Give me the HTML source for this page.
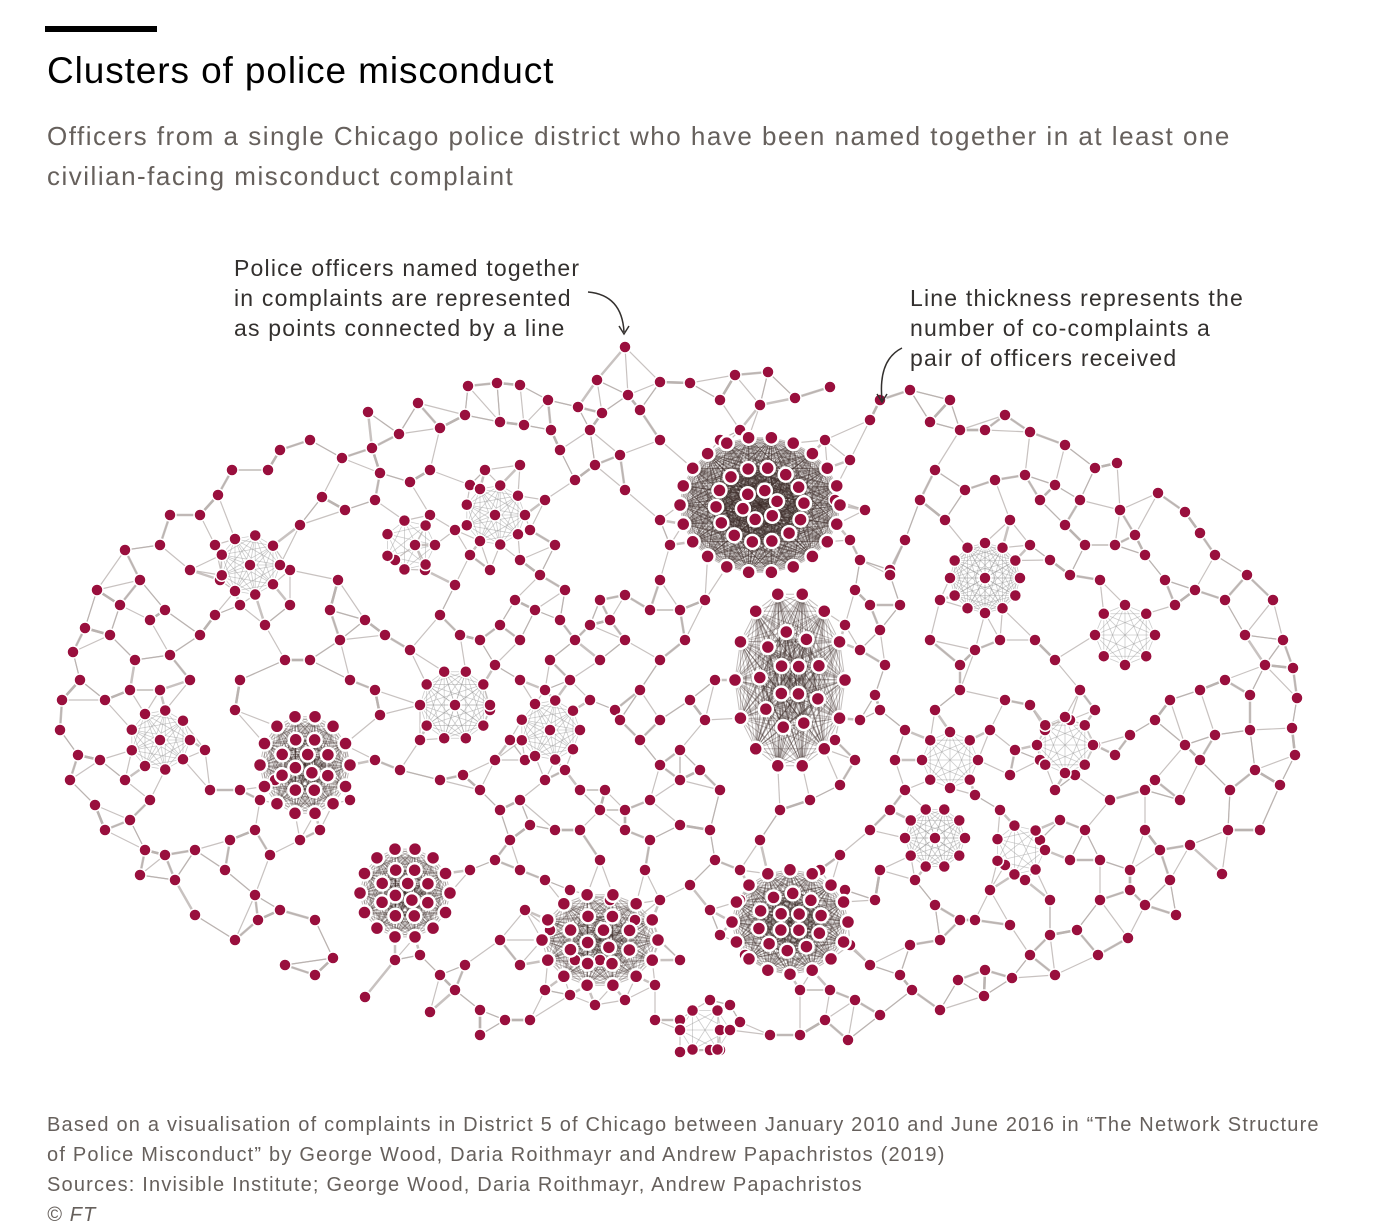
<!DOCTYPE html>
<html><head><meta charset="utf-8">
<style>
body{margin:0;background:#fff;width:1399px;height:1229px;overflow:hidden;font-family:"Liberation Sans",sans-serif;position:relative}
.t{position:absolute;margin:0}
</style></head><body>
<div style="position:absolute;left:45px;top:26px;width:112px;height:6px;background:#000"></div>
<h1 class="t" style="left:47px;top:50px;font-size:37px;letter-spacing:0.9px;font-weight:normal;color:#000">Clusters of police misconduct</h1>
<p class="t" style="left:47px;top:116px;font-size:26px;letter-spacing:1.5px;line-height:40px;color:#66605c;width:1230px">Officers from a single Chicago police district who have been named together in at least one civilian-facing misconduct complaint</p>
<p class="t" style="left:234px;top:253px;font-size:23px;letter-spacing:1.2px;line-height:30px;color:#33302e">Police officers named together<br>in complaints are represented<br>as points connected by a line</p>
<p class="t" style="left:910px;top:283px;font-size:23px;letter-spacing:1.2px;line-height:30px;color:#33302e">Line thickness represents the<br>number of co-complaints a<br>pair of officers received</p>
<svg id="net" width="1399" height="1229" style="position:absolute;left:0;top:0">
<g id="edges"></g><g id="nodes"></g>
<path d="M588 292 Q622 295 624 332" fill="none" stroke="#33302e" stroke-width="1.5"/>
<path d="M619 326 L624 334 L629 326" fill="none" stroke="#33302e" stroke-width="1.5"/>
<path d="M902 348 Q878 360 882 400" fill="none" stroke="#33302e" stroke-width="1.5"/>
<path d="M877 394 L882 402 L887 394" fill="none" stroke="#33302e" stroke-width="1.5"/>
</svg>
<p class="t" style="left:47px;top:1110px;font-size:20px;letter-spacing:1.2px;line-height:30px;color:#66605c">Based on a visualisation of complaints in District 5 of Chicago between January 2010 and June 2016 in “The Network Structure<br>of Police Misconduct” by George Wood, Daria Roithmayr and Andrew Papachristos (2019)<br>Sources: Invisible Institute; George Wood, Daria Roithmayr, Andrew Papachristos<br><i>© FT</i></p>
<script>
const nodeX=[625,597,660,690,735,768,720,760,795,830,880,910,870,468,497,520,418,368,578,602,628,548,465,500,524,551,440,399,372,342,310,280,268,232,218,200,170,160,125,140,97,120,85,110,73,80,62,60,78,70,95,105,130,145,165,140,175,195,235,258,285,315,333,365,315,280,255,225,195,230,255,
215,190,220,290,300,322,345,375,410,430,380,455,430,415,395,425,455,338,330,365,385,410,290,265,240,215,200,165,150,135,170,190,160,130,105,100,125,150,205,210,240,235,240,285,310,340,350,375,380,375,400,420,440,463,345,350,
950,930,960,985,1005,1030,1065,1095,1117,1158,1185,1200,1215,1247,1273,1283,1293,1297,1292,1295,1280,1260,1228,1222,1176,1145,1128,1098,1077,1055,1030,1012,984,985,958,940,912,900,910,940,960,935,915,880,870,890,905,895,905,935,960,975,1000,1035,1055,1080,1095,1070,1045,1030,1005,990,1015,1040,1075,1095,1115,1130,1155,1170,1200,1225,1250,1265,1245,1225,1195,1175,1165,1145,1115,1100,1070,1050,1030,1010,1040,1065,1085,1120,1135,1080,1055,1025,995,965,935,920,945,905,890,940,930,960,1155,1180,1200,1230,1255,1250,1215,1185,1145,1110,1085,1060,1040,1070,1100,1130,1160,1190,1145,1050,1025,1005,990,975,1010,1050,1100,1130,1170,1000,975,1010,1055,
660,640,620,590,560,595,625,575,545,520,485,470,555,530,520,490,470,540,565,600,625,610,590,560,535,515,500,480,460,440,520,550,575,600,625,650,660,670,660,680,705,685,660,640,615,590,570,545,520,495,490,510,525,495,480,500,520,545,565,580,605,625,600,580,555,530,510,495,470,520,545,570,600,625,650,680,660,640,620,660,690,715,705,680,700,720,710,680,650,645,660,690,715,740,760,780,810,840,855,835,860,875,885,860,845,870,890,860,850,865,835,825,850,720,740,880,900,855,880,610,635,660,680,655,625,595,570,545,520,500,525,550,575,600,710,680,655,720,740,770,800,825,848,880,855,830,800,770,745,720,710,740,720,680,710,480,455,430,480,505,530,465,440,420,395,850,870,845,875,820,840,730,275,260,320,300,270];
const nodeY=[347,380,382,383,375,372,400,405,398,387,400,390,420,386,383,385,403,412,407,413,395,400,415,422,425,430,428,434,448,458,440,450,470,470,495,515,515,545,550,580,590,605,628,635,652,680,700,730,755,780,805,830,820,850,855,875,880,915,940,920,965,975,958,997,920,910,895,870,850,840,830,
545,570,580,570,525,497,510,500,482,470,473,530,515,545,560,570,585,580,610,620,635,650,605,625,605,615,635,610,620,660,655,680,690,690,700,760,780,800,750,790,790,710,680,660,660,640,680,690,715,760,770,740,780,775,745,800,
400,422,430,430,415,432,445,468,463,493,512,533,555,575,600,640,668,698,728,755,785,830,830,874,915,905,938,955,930,975,955,978,996,970,980,1010,990,975,945,940,920,905,880,870,830,810,790,760,730,710,690,650,640,640,660,690,710,720,730,705,700,730,750,760,775,745,755,735,720,700,690,680,695,665,635,600,590,605,580,555,545,580,575,560,545,520,500,525,545,510,535,500,485,475,480,490,470,500,520,540,570,600,640,665,780,800,760,790,770,730,735,745,790,800,830,820,840,860,860,870,850,845,830,900,880,865,890,920,925,935,900,890,880,810,795,775,790,
440,410,455,430,450,465,490,480,500,465,470,485,545,530,560,570,555,575,590,600,595,620,625,620,610,600,625,640,635,615,640,660,640,660,640,610,580,545,520,610,600,640,660,690,710,700,680,690,680,665,710,740,760,760,790,810,800,780,770,790,790,810,810,830,830,825,840,860,870,870,880,890,860,830,800,780,765,740,720,720,700,680,720,750,770,790,830,825,840,870,900,885,860,870,840,810,800,785,760,740,720,695,665,650,625,605,575,560,540,510,500,440,460,440,430,630,605,590,710,900,920,940,960,985,1000,1005,995,990,965,940,910,930,960,960,1000,1020,1020,1050,1022,1035,1035,1020,1040,1015,1000,990,990,970,955,935,910,900,1030,1052,1050,1010,990,1012,1035,1020,1020,965,975,955,960,945,965,890,900,870,855,1005,780,800,830,840,855];
// dense clusters: centre x, centre y, ring radii, ring counts, vertical stretch
const clusterX=[760,790,305,405,790,600,250,160,495,985,1125,455,550,950,935,1020,705,1065,410];
const clusterY=[505,680,765,893,922,940,565,740,515,578,635,705,730,760,838,850,1030,745,545];
const clusterR=[80,55,45,45,58,58,30,30,30,35,30,35,30,28,30,25,25,28,25];
const clusterN=[22,14,14,14,16,14,9,9,9,12,8,10,9,8,10,7,6,8,7];
const clusterInner=[14,9,8,8,10,8,1,1,1,1,0,1,1,0,1,0,0,0,0];
const clusterSy=[0.85,1.6,1.1,1,0.9,0.8,1,1,1,1,1,1,1,1,1,1,0.9,1,1];
const clusterDense=[1,1,1,1,1,1,0,0,0,0,0,0,0,0,0,0,0,0,0];
const NS="http://www.w3.org/2000/svg";
const E=document.getElementById('edges'),N=document.getElementById('nodes');
function line(a,b,col,w,op){const l=document.createElementNS(NS,'line');
l.setAttribute('x1',a[0]);l.setAttribute('y1',a[1]);l.setAttribute('x2',b[0]);l.setAttribute('y2',b[1]);
l.setAttribute('stroke',col);l.setAttribute('stroke-width',w);l.setAttribute('stroke-opacity',op);


E.appendChild(l);}
const pts=[];
for(let i=0;i<nodeX.length;i++)pts.push([nodeX[i],nodeY[i],0]);
for(let c=0;c<clusterX.length;c++){
 const cp=[];
 const rings=[[clusterR[c],clusterN[c]],[clusterR[c]*0.55,clusterInner[c]]];
 if(clusterInner[c]>6)rings.push([clusterR[c]*0.22,Math.round(clusterInner[c]/2.5)]);
 rings.forEach((rg,k)=>{for(let j=0;j<rg[1];j++){const a=j/rg[1]*2*Math.PI+k*0.4;
  const r=rg[1]==1?0:rg[0];cp.push([clusterX[c]+r*Math.cos(a),clusterY[c]+r*Math.sin(a)*clusterSy[c],clusterDense[c]?2:1]);}});
 for(let i=0;i<cp.length;i++)for(let j=i+1;j<cp.length;j++){
  if(clusterDense[c])line(cp[i],cp[j],'#3a2a28',1,0.3);
  else line(cp[i],cp[j],'#999',0.8,0.5);}
 cp.forEach(p=>pts.push(p));
}
for(let i=0;i<nodeX.length;i++){
 const d=[];for(let j=0;j<pts.length;j++){if(j==i)continue;const dx=pts[j][0]-nodeX[i],dy=pts[j][1]-nodeY[i];d.push([dx*dx+dy*dy,j]);}
 d.sort((a,b)=>a[0]-b[0]);
 for(let k=0;k<3;k++){if(d[k][0]<2500)line(pts[i],pts[d[k][1]],'#b5adab',k==0?2.5:1.2,0.75);}
}
pts.forEach((p,i)=>{const c=document.createElementNS(NS,'circle');
 c.setAttribute('cx',p[0]);c.setAttribute('cy',p[1]);c.setAttribute('r',p[2]==2?7:6);
 c.setAttribute('fill','#990f3d');c.setAttribute('stroke','#fff');c.setAttribute('stroke-width',p[2]==2?2.5:1.5);
 
 
 N.appendChild(c);});
</script>
</body></html>
